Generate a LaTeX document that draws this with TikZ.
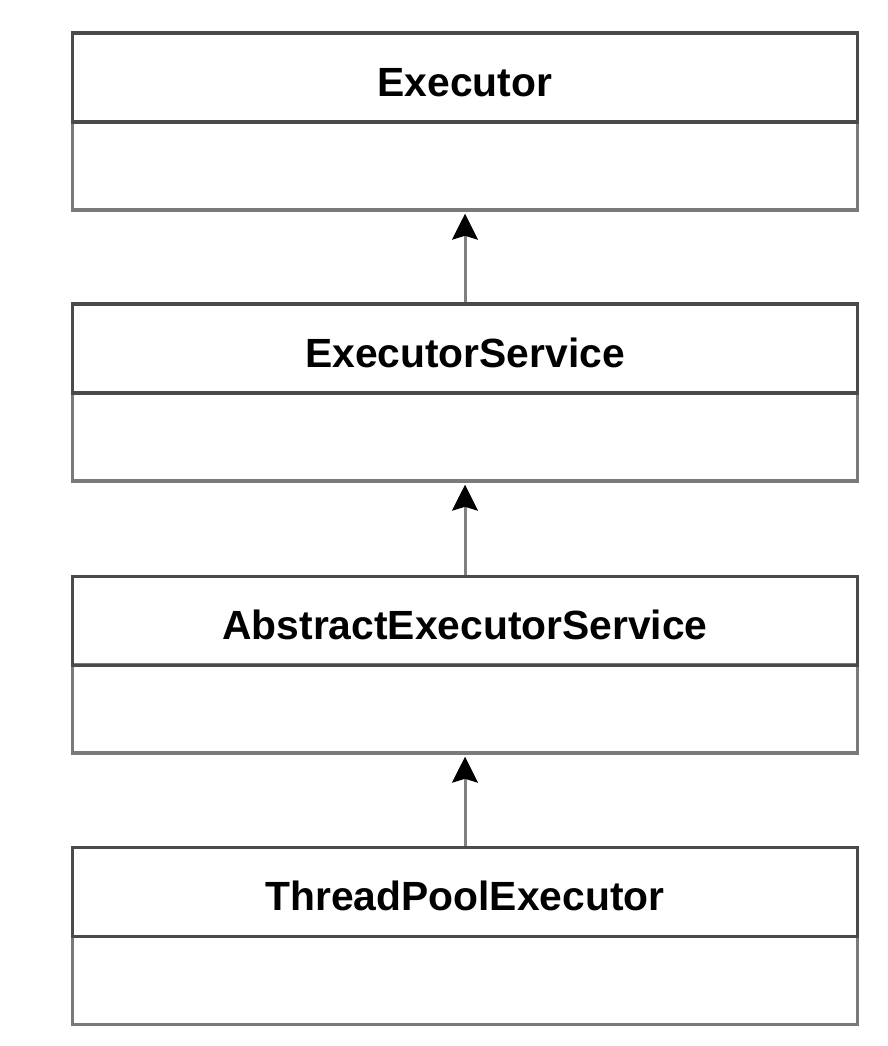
\documentclass[tikz,border=0pt]{standalone}
\usepackage{fontspec}
\setmainfont{Liberation Sans}
\usetikzlibrary{arrows.meta}
\definecolor{hdrline}{HTML}{4A4A4A}
\definecolor{bodyline}{HTML}{7A7A7A}
\definecolor{arrline}{HTML}{808080}
\tikzset{
  hdr/.style={draw=hdrline, line width=3.5pt, rectangle, minimum width=785pt, minimum height=89pt,
    inner sep=0pt, font=\fontsize{40.8pt}{44pt}\selectfont\bfseries, text height=37.5pt, text depth=0pt},
  bodybox/.style={draw=bodyline, line width=3.5pt, rectangle, minimum width=785pt, minimum height=88pt, inner sep=0pt},
  inherit/.style={draw=arrline, line width=3pt, -{Stealth[length=26pt,width=26pt,inset=4pt,color=black,fill=black,line width=1pt]}, shorten >=2pt}
}
\begin{document}
\begin{tikzpicture}[x=1pt,y=-1pt]
\useasboundingbox (0,0) rectangle (888,1046);
% Executor
\node[bodybox] (b1) at (465,166) {};
\node[hdr] (h1) at (465,77.5) {Executor};
% ExecutorService
\node[bodybox] (b2) at (465,437) {};
\node[hdr] (h2) at (465,348.5) {ExecutorService};
% AbstractExecutorService
\node[bodybox] (b3) at (465,709) {};
\node[hdr] (h3) at (465,621) {AbstractExecutorService};
% ThreadPoolExecutor
\node[bodybox] (b4) at (465,980.5) {};
\node[hdr] (h4) at (465,892) {ThreadPoolExecutor};
% arrows
\draw[inherit] (h2.north) -- (b1.south);
\draw[inherit] (h3.north) -- (b2.south);
\draw[inherit] (h4.north) -- (b3.south);
\end{tikzpicture}
\end{document}
